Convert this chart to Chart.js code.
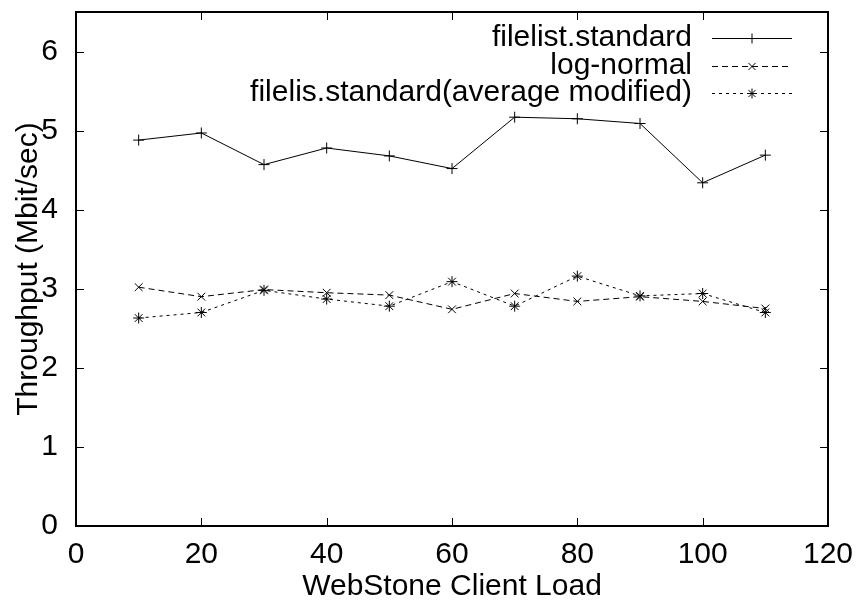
<!DOCTYPE html>
<html>
<head>
<meta charset="utf-8">
<script src="https://cdn.jsdelivr.net/npm/chart.js@4/dist/chart.umd.min.js"></script>
<style>
  html, body { margin: 0; padding: 0; background: #fff; }
  #wrap { width: 857px; height: 606px; }
</style>
</head>
<body>
<div id="wrap"><canvas id="chart"></canvas></div>
<script>
// data
var clientLoad = [10, 20, 30, 40, 50, 60, 70, 80, 90, 100, 110];
var filelistStandard = [4.88, 4.97, 4.57, 4.78, 4.68, 4.52, 5.17, 5.15, 5.09, 4.34, 4.69];
var logNormal = [3.02, 2.90, 2.99, 2.95, 2.92, 2.74, 2.94, 2.84, 2.90, 2.84, 2.75];
var filelisAverage = [2.63, 2.70, 2.98, 2.87, 2.78, 3.09, 2.78, 3.16, 2.91, 2.94, 2.70];
var seriesNames = ['filelist.standard', 'log-normal', 'filelis.standard(average modified)'];
var xTicks = [0, 20, 40, 60, 80, 100, 120];
var yTicks = [0, 1, 2, 3, 4, 5, 6];

var FONT = 'Liberation Sans, Arial, Helvetica, sans-serif';
var dashes = [[], [6, 4], [3, 4]];
var markers = ['cross', 'crossRot', 'star'];

function toPoints(ys) {
    return clientLoad.map(function (x, i) { return { x: x, y: ys[i] }; });
}

// gnuplot style box + inward ticks on all four sides
var frame = {
    id: 'frame',
    afterDraw: function (chart) {
        var ctx = chart.ctx, a = chart.chartArea;
        var xs = chart.scales.x, ys = chart.scales.y;
        var len = 8;
        ctx.save();
        ctx.strokeStyle = '#000';
        ctx.lineWidth = 1;
        ctx.beginPath();
        xTicks.forEach(function (v) {
            var px = Math.round(xs.getPixelForValue(v)) + 0.5;
            ctx.moveTo(px, a.bottom); ctx.lineTo(px, a.bottom - len);
            ctx.moveTo(px, a.top); ctx.lineTo(px, a.top + len);
        });
        yTicks.forEach(function (v) {
            var py = Math.round(ys.getPixelForValue(v)) + 0.5;
            ctx.moveTo(a.left, py); ctx.lineTo(a.left + len, py);
            ctx.moveTo(a.right, py); ctx.lineTo(a.right - len, py);
        });
        ctx.stroke();
        ctx.lineWidth = 2;
        ctx.strokeRect(a.left, a.top, a.right - a.left, a.bottom - a.top);

        // key, text right aligned with line samples on the right
        ctx.font = '30px ' + FONT;
        ctx.textAlign = 'right';
        ctx.textBaseline = 'middle';
        ctx.fillStyle = '#000';
        var rowY = [38, 66, 93];
        seriesNames.forEach(function (name, i) {
            var y = rowY[i];
            ctx.fillText(name, 692, y);
            ctx.setLineDash(dashes[i]);
            ctx.lineWidth = 1;
            ctx.beginPath();
            ctx.moveTo(712, y + 0.5); ctx.lineTo(792, y + 0.5);
            ctx.stroke();
            ctx.setLineDash([]);
            Chart.helpers.drawPoint(ctx, { pointStyle: markers[i], radius: 5, rotation: 0, borderWidth: 1 }, 752, y + 0.5);
        });
        ctx.restore();
    }
};

var series = [filelistStandard, logNormal, filelisAverage];
var datasets = series.map(function (ys, i) {
    return {
        label: seriesNames[i],
        data: toPoints(ys),
        borderColor: '#000',
        backgroundColor: '#000',
        borderWidth: 1,
        borderDash: dashes[i],
        pointStyle: markers[i],
        pointRadius: 5.5,
        pointBorderWidth: 1,
        pointBorderColor: '#000',
        tension: 0,
        fill: false
    };
});

new Chart(document.getElementById('chart'), {
    type: 'line',
    data: { datasets: datasets },
    options: {
        responsive: true,
        maintainAspectRatio: false,
        animation: false,
        layout: { padding: { left: 0, right: 29, top: 12, bottom: 0 } },
        plugins: { legend: { display: false }, tooltip: { enabled: false } },
        scales: {
            x: {
                type: 'linear',
                min: 0,
                max: 120,
                afterBuildTicks: function (s) { s.ticks = xTicks.map(function (v) { return { value: v }; }); },
                afterFit: function (s) { s.height = 80; s.paddingLeft = 0; s.paddingRight = 0; },
                grid: { display: false, drawTicks: false },
                border: { display: false },
                ticks: { color: '#000', padding: 11, maxRotation: 0, autoSkip: false, font: { family: FONT, size: 30 } },
                title: { display: true, text: 'WebStone Client Load', color: '#000', padding: { top: 0, bottom: 1 }, font: { family: FONT, size: 30 } }
            },
            y: {
                type: 'linear',
                min: 0,
                max: 6.5,
                afterBuildTicks: function (s) { s.ticks = yTicks.map(function (v) { return { value: v }; }); },
                afterFit: function (s) { s.width = 76; s.paddingTop = 0; s.paddingBottom = 0; },
                grid: { display: false, drawTicks: false },
                border: { display: false },
                ticks: { color: '#000', padding: 18, autoSkip: false, font: { family: FONT, size: 30 } },
                title: { display: true, text: 'Throughput (Mbit/sec)', color: '#000', padding: { top: 11, bottom: 0 }, font: { family: FONT, size: 30 } }
            }
        }
    },
    plugins: [frame]
});
</script>
</body>
</html>
